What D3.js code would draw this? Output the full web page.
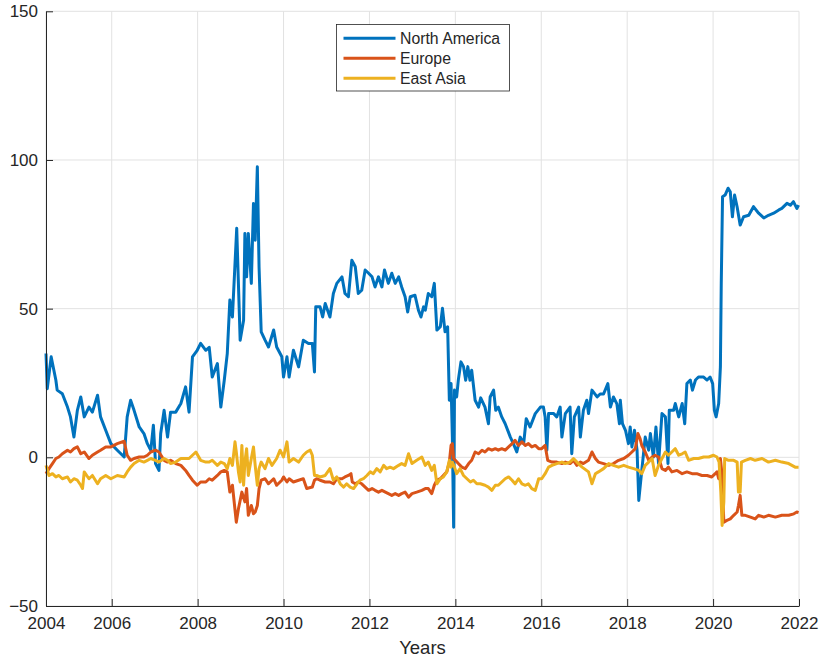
<!DOCTYPE html>
<html>
<head>
<meta charset="utf-8">
<script src="https://cdn.jsdelivr.net/npm/d3@7"></script>
<style>
  body { margin: 0; background: #fff; }
  svg text { font-family: "Liberation Sans", Arial, Helvetica, sans-serif; fill: #262626; }
</style>
</head>
<body>
<svg id="chart" width="822" height="663"></svg>
<script>
// series names and MATLAB default colours
const seriesNames = ["North America", "Europe", "East Asia"];
const seriesColors = ["#0072BD", "#D95319", "#EDB120"];

// [decimal year, value]
const northAmerica = [
  [2004.47,34.9],[2004.50,23.1],[2004.59,33.8],[2004.70,25.9],[2004.73,22.6],[2004.85,21.4],[2004.97,16.9],
  [2005.04,13.6],[2005.12,6.8],[2005.20,15.8],[2005.28,20.3],[2005.36,13.6],[2005.47,16.9],[2005.55,15.2],
  [2005.67,20.9],[2005.74,13.6],[2005.86,9.1],[2005.98,4.6],[2006.13,2.4],[2006.29,0.1],[2006.36,13.6],
  [2006.44,19.2],[2006.52,15.8],[2006.64,10.2],[2006.75,8.0],[2006.83,4.6],[2006.91,2.4],[2006.97,10.8],
  [2007.02,-2.1],[2007.10,-4.4],[2007.14,8.0],[2007.22,15.8],[2007.30,6.8],[2007.37,15.2],[2007.49,15.2],
  [2007.61,18.1],[2007.72,23.7],[2007.80,15.2],[2007.88,33.8],[2007.99,36.0],[2008.07,38.3],[2008.19,36.0],
  [2008.27,37.0],[2008.34,27.0],[2008.46,31.5],[2008.54,16.9],[2008.62,25.9],[2008.69,34.9],[2008.75,52.9],
  [2008.81,47.2],[2008.91,77.0],[2008.99,39.4],[2009.07,46.1],[2009.10,75.3],[2009.14,60.7],[2009.18,75.3],
  [2009.25,58.5],[2009.30,85.4],[2009.34,73.0],[2009.39,97.7],[2009.43,64.0],[2009.48,42.2],[2009.57,39.4],
  [2009.65,37.1],[2009.77,42.8],[2009.84,37.1],[2009.96,33.8],[2010.00,27.0],[2010.08,33.8],[2010.13,27.0],
  [2010.23,36.0],[2010.35,30.4],[2010.46,39.4],[2010.58,38.3],[2010.67,38.3],[2010.72,28.7],[2010.75,50.6],
  [2010.85,50.6],[2010.91,47.2],[2010.97,51.7],[2011.08,47.2],[2011.16,55.1],[2011.24,58.5],[2011.36,60.7],
  [2011.43,55.1],[2011.51,54.0],[2011.59,66.3],[2011.67,64.1],[2011.74,55.1],[2011.82,56.2],[2011.90,63.0],
  [2011.98,61.9],[2012.06,60.7],[2012.13,57.3],[2012.21,60.7],[2012.29,57.3],[2012.35,63.0],[2012.44,58.5],
  [2012.52,61.9],[2012.60,58.5],[2012.68,60.7],[2012.75,57.3],[2012.83,54.0],[2012.89,48.9],[2012.95,54.0],
  [2013.06,54.5],[2013.14,49.5],[2013.20,47.2],[2013.26,50.6],[2013.30,49.5],[2013.37,55.1],[2013.45,54.0],
  [2013.51,58.5],[2013.57,42.8],[2013.65,43.9],[2013.70,50.1],[2013.76,42.2],[2013.82,43.9],[2013.86,19.2],
  [2013.90,24.8],[2013.93,6.8],[2013.96,-23.5],[2013.98,22.6],[2014.03,20.3],[2014.07,26.1],[2014.13,32.1],
  [2014.19,30.5],[2014.24,25.9],[2014.29,30.5],[2014.34,25.9],[2014.38,29.3],[2014.46,19.2],[2014.54,16.9],
  [2014.59,20.0],[2014.69,16.9],[2014.77,11.3],[2014.81,20.3],[2014.89,22.6],[2014.94,15.8],[2015.00,16.9],
  [2015.08,13.6],[2015.16,11.3],[2015.28,6.8],[2015.35,4.6],[2015.43,1.8],[2015.51,6.8],[2015.59,4.6],
  [2015.65,13.0],[2015.74,10.2],[2015.86,14.7],[2015.98,16.9],[2016.05,16.9],[2016.09,13.6],[2016.13,2.4],
  [2016.17,14.7],[2016.29,14.7],[2016.36,13.6],[2016.44,16.9],[2016.48,6.8],[2016.56,14.7],[2016.67,16.9],
  [2016.71,1.2],[2016.77,13.6],[2016.87,16.9],[2016.91,6.8],[2016.98,15.8],[2017.06,19.2],[2017.10,14.7],
  [2017.18,22.6],[2017.30,20.3],[2017.37,21.3],[2017.45,21.3],[2017.55,24.8],[2017.61,16.9],[2017.68,20.3],
  [2017.76,18.0],[2017.82,11.3],[2017.84,19.2],[2017.89,11.3],[2017.96,9.1],[2018.03,4.6],[2018.07,10.2],
  [2018.11,3.5],[2018.17,9.1],[2018.23,2.4],[2018.27,-14.5],[2018.34,-4.4],[2018.42,6.8],[2018.50,2.4],
  [2018.54,8.0],[2018.61,0.1],[2018.67,10.2],[2018.73,-2.1],[2018.81,14.7],[2018.89,13.6],[2018.95,-2.1],
  [2018.98,15.8],[2019.08,15.8],[2019.12,18.1],[2019.20,13.6],[2019.28,18.1],[2019.34,11.3],[2019.39,24.8],
  [2019.47,26.0],[2019.52,22.6],[2019.59,26.0],[2019.66,27.0],[2019.78,27.0],[2019.86,26.0],[2019.93,27.0],
  [2019.99,24.8],[2020.03,15.8],[2020.07,13.6],[2020.13,18.1],[2020.17,30.4],[2020.19,58.5],[2020.22,87.6],
  [2020.28,88.2],[2020.35,90.5],[2020.40,89.3],[2020.45,80.9],[2020.50,88.2],[2020.56,84.2],[2020.63,78.1],
  [2020.71,80.9],[2020.83,81.4],[2020.94,84.3],[2021.06,82.1],[2021.18,80.5],[2021.29,81.4],[2021.41,82.1],
  [2021.53,83.2],[2021.60,83.7],[2021.72,85.4],[2021.80,84.8],[2021.87,86.0],[2021.95,83.7],[2021.99,84.8]
];

const europe = [
  [2004.47,-5.5],[2004.54,-3.8],[2004.62,-2.1],[2004.70,-0.4],[2004.77,0.1],[2004.85,1.2],[2004.97,2.4],
  [2005.04,1.8],[2005.12,2.9],[2005.20,3.5],[2005.28,1.2],[2005.36,1.8],[2005.47,-0.4],[2005.55,0.7],
  [2005.67,1.8],[2005.74,2.4],[2005.86,3.5],[2005.98,3.5],[2006.13,4.6],[2006.29,5.4],[2006.36,0.7],
  [2006.44,-1.0],[2006.52,-0.4],[2006.64,0.1],[2006.75,0.1],[2006.83,0.7],[2006.91,1.8],[2007.02,2.4],
  [2007.10,1.8],[2007.22,-1.0],[2007.30,-1.6],[2007.37,-1.0],[2007.49,-2.1],[2007.61,-2.7],[2007.72,-4.4],
  [2007.80,-6.1],[2007.88,-7.7],[2007.99,-9.4],[2008.07,-8.3],[2008.19,-8.3],[2008.27,-7.2],[2008.34,-7.7],
  [2008.46,-6.1],[2008.54,-4.9],[2008.62,-4.4],[2008.69,-4.9],[2008.75,-11.7],[2008.81,-9.4],[2008.90,-21.8],
  [2008.95,-17.3],[2009.03,-11.7],[2009.10,-15.0],[2009.14,-10.5],[2009.18,-19.5],[2009.25,-16.2],[2009.30,-19.0],
  [2009.34,-18.4],[2009.39,-16.2],[2009.43,-10.5],[2009.48,-7.7],[2009.57,-7.2],[2009.65,-8.9],[2009.77,-7.2],
  [2009.84,-9.4],[2009.96,-7.7],[2010.00,-6.6],[2010.08,-8.3],[2010.13,-7.2],[2010.23,-8.3],[2010.35,-7.7],
  [2010.46,-7.2],[2010.54,-10.5],[2010.67,-10.0],[2010.72,-7.7],[2010.77,-7.2],[2010.85,-7.7],[2010.97,-8.3],
  [2011.08,-8.3],[2011.16,-8.9],[2011.24,-7.2],[2011.36,-7.2],[2011.43,-6.6],[2011.51,-6.1],[2011.57,-5.5],
  [2011.60,-8.3],[2011.67,-8.9],[2011.74,-8.3],[2011.82,-8.9],[2011.90,-10.0],[2011.98,-11.1],[2012.06,-10.5],
  [2012.13,-11.1],[2012.21,-11.7],[2012.29,-11.1],[2012.37,-11.7],[2012.44,-12.2],[2012.52,-12.8],[2012.60,-12.2],
  [2012.68,-12.8],[2012.75,-12.2],[2012.83,-11.7],[2012.91,-13.4],[2012.99,-12.2],[2013.10,-11.7],[2013.22,-11.1],
  [2013.30,-10.5],[2013.37,-10.5],[2013.45,-12.2],[2013.51,-9.4],[2013.57,-7.7],[2013.65,-7.2],[2013.72,-6.1],
  [2013.80,-4.9],[2013.86,-1.6],[2013.90,4.0],[2013.93,4.6],[2013.96,-0.4],[2014.00,-1.0],[2014.07,-2.1],
  [2014.15,-3.3],[2014.23,-3.8],[2014.31,-2.1],[2014.38,-1.0],[2014.46,1.8],[2014.54,1.2],[2014.62,2.4],
  [2014.69,1.8],[2014.77,2.9],[2014.85,2.4],[2014.93,2.9],[2015.00,2.4],[2015.08,2.9],[2015.16,2.4],
  [2015.24,3.5],[2015.32,4.6],[2015.39,5.7],[2015.47,4.0],[2015.55,5.2],[2015.63,4.0],[2015.70,4.6],
  [2015.78,3.5],[2015.86,4.0],[2015.94,2.9],[2016.01,2.9],[2016.09,4.0],[2016.15,-1.0],[2016.25,-1.6],
  [2016.36,-1.6],[2016.48,-2.1],[2016.56,-1.6],[2016.67,-2.1],[2016.75,-1.0],[2016.83,-2.7],[2016.91,-1.6],
  [2016.98,-2.1],[2017.10,-1.0],[2017.18,1.8],[2017.26,-0.4],[2017.33,-1.6],[2017.45,-2.1],[2017.57,-2.7],
  [2017.68,-2.1],[2017.80,-1.0],[2017.92,-0.4],[2018.03,0.7],[2018.11,1.8],[2018.19,2.9],[2018.25,8.0],
  [2018.30,6.3],[2018.34,4.0],[2018.42,1.8],[2018.50,-1.0],[2018.58,0.1],[2018.65,0.7],[2018.73,0.1],
  [2018.81,-3.8],[2018.89,-4.4],[2018.96,-3.3],[2019.04,-4.9],[2019.16,-4.4],[2019.28,-5.5],[2019.39,-4.9],
  [2019.51,-5.5],[2019.62,-5.5],[2019.74,-6.1],[2019.86,-6.1],[2019.97,-6.6],[2020.05,-5.5],[2020.09,-4.9],
  [2020.13,-7.2],[2020.17,-0.4],[2020.21,-6.1],[2020.25,-21.8],[2020.32,-21.2],[2020.40,-20.7],[2020.48,-19.5],
  [2020.56,-18.4],[2020.59,-16.2],[2020.63,-12.8],[2020.67,-19.5],[2020.75,-19.5],[2020.87,-20.1],[2020.98,-20.7],
  [2021.06,-19.5],[2021.18,-20.1],[2021.29,-19.5],[2021.45,-20.1],[2021.60,-19.5],[2021.76,-19.5],[2021.88,-19.0],
  [2021.95,-18.4],[2021.99,-18.6]
];

const eastAsia = [
  [2004.47,-2.7],[2004.54,-6.1],[2004.62,-5.5],[2004.70,-6.6],[2004.77,-6.1],[2004.85,-7.2],[2004.97,-6.6],
  [2005.04,-8.3],[2005.12,-7.2],[2005.20,-7.7],[2005.28,-9.4],[2005.32,-10.5],[2005.36,-4.9],[2005.47,-7.2],
  [2005.55,-6.1],[2005.67,-8.9],[2005.74,-7.2],[2005.86,-6.1],[2005.98,-7.2],[2006.13,-6.1],[2006.29,-6.6],
  [2006.36,-4.9],[2006.44,-3.3],[2006.52,-2.1],[2006.64,-1.0],[2006.75,-1.6],[2006.83,-1.0],[2006.91,-0.4],
  [2007.02,-1.0],[2007.10,-1.6],[2007.22,-0.4],[2007.30,-1.0],[2007.37,-2.1],[2007.49,-1.6],[2007.61,-0.4],
  [2007.72,-0.4],[2007.80,-0.4],[2007.88,0.7],[2007.96,1.8],[2008.07,-1.0],[2008.19,-1.6],[2008.27,-1.6],
  [2008.34,-1.0],[2008.46,-2.7],[2008.54,-1.6],[2008.62,-2.1],[2008.69,-3.8],[2008.75,-0.4],[2008.81,-2.7],
  [2008.87,5.2],[2008.90,1.8],[2008.95,-4.9],[2008.99,-8.3],[2009.03,4.0],[2009.07,-9.4],[2009.10,-1.6],
  [2009.14,2.9],[2009.18,-6.1],[2009.25,-0.4],[2009.30,3.5],[2009.34,-2.7],[2009.39,-9.4],[2009.43,-3.8],
  [2009.48,-1.6],[2009.57,-3.8],[2009.65,-0.4],[2009.73,-2.7],[2009.84,-0.4],[2009.92,2.4],[2010.00,0.1],
  [2010.08,5.2],[2010.13,-1.6],[2010.23,-0.4],[2010.35,-1.6],[2010.46,0.7],[2010.54,1.8],[2010.62,2.4],
  [2010.67,0.7],[2010.72,-6.1],[2010.77,-6.1],[2010.85,-6.6],[2010.97,-6.1],[2011.08,-3.8],[2011.16,-7.7],
  [2011.24,-6.6],[2011.32,-8.9],[2011.40,-10.0],[2011.47,-8.9],[2011.55,-10.0],[2011.63,-10.5],[2011.71,-8.9],
  [2011.78,-7.7],[2011.86,-7.2],[2011.94,-6.1],[2012.02,-4.9],[2012.09,-5.5],[2012.17,-3.8],[2012.25,-4.9],
  [2012.33,-2.7],[2012.40,-3.8],[2012.48,-3.3],[2012.56,-3.8],[2012.68,-2.7],[2012.75,-2.1],[2012.83,-2.7],
  [2012.91,1.2],[2012.99,-2.1],[2013.10,-1.0],[2013.22,0.1],[2013.30,-2.7],[2013.37,-1.6],[2013.45,-4.4],
  [2013.51,-2.7],[2013.57,-8.9],[2013.65,-7.2],[2013.72,-6.6],[2013.80,-4.9],[2013.86,-1.0],[2013.90,-3.3],
  [2013.93,-1.6],[2013.98,-3.3],[2014.03,-5.5],[2014.11,-3.8],[2014.19,-6.1],[2014.27,-7.2],[2014.35,-8.3],
  [2014.42,-7.7],[2014.50,-8.9],[2014.58,-8.9],[2014.69,-9.4],[2014.77,-10.0],[2014.85,-11.1],[2014.93,-9.4],
  [2015.00,-9.4],[2015.08,-8.3],[2015.16,-7.2],[2015.24,-6.6],[2015.32,-7.7],[2015.39,-8.9],[2015.47,-7.2],
  [2015.55,-8.9],[2015.63,-9.4],[2015.70,-8.9],[2015.78,-10.5],[2015.86,-11.1],[2015.94,-7.2],[2016.01,-7.2],
  [2016.09,-5.5],[2016.17,-3.3],[2016.25,-2.7],[2016.36,-2.1],[2016.48,-1.6],[2016.56,-2.1],[2016.67,-1.6],
  [2016.75,-0.4],[2016.83,-1.6],[2016.95,-3.3],[2017.10,-4.9],[2017.18,-8.9],[2017.26,-5.5],[2017.33,-4.9],
  [2017.45,-3.8],[2017.57,-2.1],[2017.68,-2.7],[2017.80,-3.3],[2017.92,-2.7],[2018.03,-3.3],[2018.15,-3.8],
  [2018.27,-4.4],[2018.34,-5.5],[2018.42,-2.7],[2018.50,-1.6],[2018.58,-0.4],[2018.65,-6.1],[2018.73,-2.7],
  [2018.81,-0.4],[2018.89,1.8],[2018.96,0.7],[2019.04,1.8],[2019.12,2.9],[2019.20,0.7],[2019.28,1.2],
  [2019.35,1.8],[2019.43,-1.0],[2019.55,-0.4],[2019.66,-0.4],[2019.78,0.1],[2019.90,0.1],[2020.01,0.7],
  [2020.09,0.1],[2020.14,-1.6],[2020.18,-11.7],[2020.21,-22.9],[2020.25,-15.0],[2020.27,-0.4],[2020.36,-1.0],
  [2020.48,-1.0],[2020.56,-1.6],[2020.59,-11.7],[2020.63,-11.7],[2020.66,-1.6],[2020.75,-1.0],[2020.87,-0.4],
  [2020.98,-1.0],[2021.14,-0.4],[2021.29,-1.6],[2021.45,-1.0],[2021.60,-1.6],[2021.76,-2.1],[2021.91,-3.3],
  [2021.99,-3.3]
];

const xTickYears = [2004.47, 2006, 2008, 2010, 2012, 2014, 2016, 2018, 2020, 2022];
const xTickLabels = ["2004", "2006", "2008", "2010", "2012", "2014", "2016", "2018", "2020", "2022"];
const yTicks = [-50, 0, 50, 100, 150];

const svg = d3.select("#chart");
const plotLeft = 46, plotRight = 799, plotTop = 11.3, plotBottom = 606;

const x = d3.scaleLinear().domain([2004.47, 2022]).range([plotLeft, plotRight]);
const y = d3.scaleLinear().domain([-50, 150]).range([plotBottom, plotTop]);

// grid
const grid = svg.append("g").attr("stroke", "#e2e2e2").attr("stroke-width", 1);
grid.selectAll("line.gx")
  .data(xTickYears)
  .enter()
  .append("line")
  .attr("x1", d => x(d))
  .attr("x2", d => x(d))
  .attr("y1", plotTop)
  .attr("y2", plotBottom);
grid.selectAll("line.gy")
  .data(yTicks)
  .enter()
  .append("line")
  .attr("x1", plotLeft)
  .attr("x2", plotRight)
  .attr("y1", d => y(d))
  .attr("y2", d => y(d));

// lines, drawn in MATLAB order so East Asia ends on top
const line = d3.line()
  .x(d => x(d[0]))
  .y(d => y(d[1]));

[northAmerica, europe, eastAsia].forEach((data, i) => {
  svg.append("path")
    .datum(data)
    .attr("fill", "none")
    .attr("stroke", seriesColors[i])
    .attr("stroke-width", 3)
    .attr("stroke-linejoin", "round")
    .attr("d", line);
});

// axes, ticks pointing inward
const xAxis = svg.append("g")
  .attr("transform", `translate(0,${plotBottom})`)
  .call(d3.axisBottom(x)
    .tickValues(xTickYears)
    .tickFormat((d, i) => xTickLabels[i])
    .tickSizeInner(-7)
    .tickSizeOuter(0)
    .tickPadding(11));

const yAxis = svg.append("g")
  .attr("transform", `translate(${plotLeft},0)`)
  .call(d3.axisLeft(y)
    .tickValues(yTicks)
    .tickSizeInner(-7)
    .tickSizeOuter(0)
    .tickPadding(8));

[xAxis, yAxis].forEach(a => {
  a.select(".domain").attr("stroke", "#262626");
  a.selectAll(".tick line").attr("stroke", "#262626");
  a.selectAll(".tick text")
    .attr("fill", "#262626")
    .style("font-size", "17px")
    .style("font-family", '"Liberation Sans", Arial, Helvetica, sans-serif');
});

svg.append("text")
  .attr("x", (plotLeft + plotRight) / 2)
  .attr("y", 654)
  .attr("text-anchor", "middle")
  .style("font-size", "18.5px")
  .text("Years");

// legend
const legend = svg.append("g");
legend.append("rect")
  .attr("x", 336.5)
  .attr("y", 24.5)
  .attr("width", 173)
  .attr("height", 66.5)
  .attr("fill", "#fff")
  .attr("stroke", "#262626")
  .attr("stroke-width", 0.8);

legend.selectAll("line")
  .data(seriesNames)
  .enter()
  .append("line")
  .attr("x1", 343.5)
  .attr("x2", 395.5)
  .attr("y1", (d, i) => 38.3 + i * 20)
  .attr("y2", (d, i) => 38.3 + i * 20)
  .attr("stroke", (d, i) => seriesColors[i])
  .attr("stroke-width", 3);

legend.selectAll("text")
  .data(seriesNames)
  .enter()
  .append("text")
  .attr("x", 400)
  .attr("y", (d, i) => 38.3 + i * 20)
  .attr("dy", "0.35em")
  .style("font-size", "15.8px")
  .text(d => d);
</script>
</body>
</html>
